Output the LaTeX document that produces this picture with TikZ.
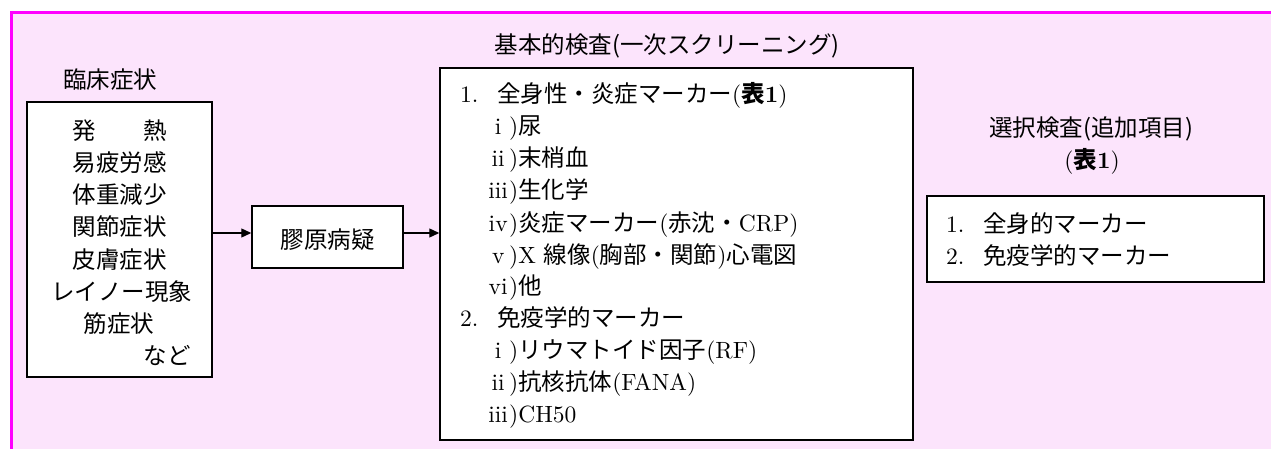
\documentclass[tikz,border=0pt]{standalone}
\usepackage{fontspec}
\setmainfont{lmroman10}[Extension=.otf, UprightFont=*-regular, BoldFont=*-bold]
\newfontfamily\cjk{Noto Sans CJK JP}[Scale=1.0]
\usetikzlibrary{arrows.meta}
\definecolor{bgpink}{RGB}{252,228,252}
\definecolor{mag}{RGB}{255,0,255}
\newcommand{\rn}[1]{\makebox[22pt][c]{#1})}
\tikzset{
  box/.style={draw=black,line width=1.5pt,fill=white,inner sep=0pt},
  txt/.style={inner sep=0pt,font=\fontsize{23.5}{28}\selectfont},
  lft/.style={txt,anchor=base west},
  ctr/.style={txt,anchor=base},
  rgt/.style={txt,anchor=base east},
  arr/.style={line width=1.3pt,-{Triangle[length=10pt,width=9pt]}},
  frame/.style={draw=mag,line width=3pt},
}
\begin{document}
\begin{tikzpicture}[x=1pt,y=-1pt]
\useasboundingbox (0,0) rectangle (1271,449);
\fill[white] (0,0) rectangle (1271,449);
\fill[bgpink] (12,12) rectangle (1271,449);
\draw[frame] (10,12.5) -- (1271,12.5);
\draw[frame] (11.5,11) -- (11.5,449);

% box 1: clinical symptoms
\node[ctr] (t1) at (110,89) {\cjk 臨床症状};
\node[box,minimum width=185pt,minimum height=275pt] (b1) at (119.5,239.5) {};
\node[ctr] (s1) at (119.5,140) {\cjk 発\hspace{47pt}熱};
\node[ctr] (s2) at (119.5,172) {\cjk 易疲労感};
\node[ctr] (s3) at (119.5,204) {\cjk 体重減少};
\node[ctr] (s4) at (119.5,236) {\cjk 関節症状};
\node[ctr] (s5) at (119.5,268) {\cjk 皮膚症状};
\node[ctr] (s6) at (121.5,300) {\cjk レイノー現象};
\node[ctr] (s7) at (119,332) {\cjk 筋症状};
\node[rgt] (s8) at (191,364) {\cjk など};

% box 2
\node[box,minimum width=151pt,minimum height=62pt] (b2) at (327.5,237) {};
\node[ctr] (t2) at (327.5,248) {\cjk 膠原病疑};

% box 3: basic tests
\node[ctr] (t3) at (667,54) {\cjk 基本的検査(一次スクリーニング)};
\node[box,minimum width=473pt,minimum height=372pt] (b3) at (676.5,254) {};
\node[lft] (l1)  at (460,103) {\makebox[37pt][l]{1.}{\cjk 全身性・炎症マーカー}({\cjk\bfseries 表}\textbf{1})};
\node[lft] (l2)  at (487,135) {\rn{i}{\cjk 尿}};
\node[lft] (l3)  at (487,167) {\rn{ii}{\cjk 末梢血}};
\node[lft] (l4)  at (487,199) {\rn{iii}{\cjk 生化学}};
\node[lft] (l5)  at (487,231) {\rn{iv}{\cjk 炎症マーカー}({\cjk 赤沈・}CRP)};
\node[lft] (l6)  at (487,263) {\rn{v}X {\cjk 線像}({\cjk 胸部・関節}){\cjk 心電図}};
\node[lft] (l7)  at (487,294) {\rn{vi}{\cjk 他}};
\node[lft] (l8)  at (460,326) {\makebox[37pt][l]{2.}{\cjk 免疫学的マーカー}};
\node[lft] (l9)  at (487,358) {\rn{i}{\cjk リウマトイド因子}(RF)};
\node[lft] (l10) at (487,390) {\rn{ii}{\cjk 抗核抗体}(FANA)};
\node[lft] (l11) at (487,422) {\rn{iii}CH50};

% box 4: selective tests
\node[ctr] (t4a) at (1091,137) {\cjk 選択検査(追加項目)};
\node[ctr] (t4b) at (1092,169) {({\cjk\bfseries 表}\textbf{1})};
\node[box,minimum width=337pt,minimum height=86pt] (b4) at (1095.5,239) {};
\node[lft] (m1) at (946,232) {\makebox[37pt][l]{1.}{\cjk 全身的マーカー}};
\node[lft] (m2) at (946,264) {\makebox[37pt][l]{2.}{\cjk 免疫学的マーカー}};

% arrows
\coordinate (ay) at (0,233);
\draw[arr] (b1.east |- ay) -- (b2.west |- ay);
\draw[arr] (b2.east |- ay) -- (b3.west |- ay);
\end{tikzpicture}
\end{document}
